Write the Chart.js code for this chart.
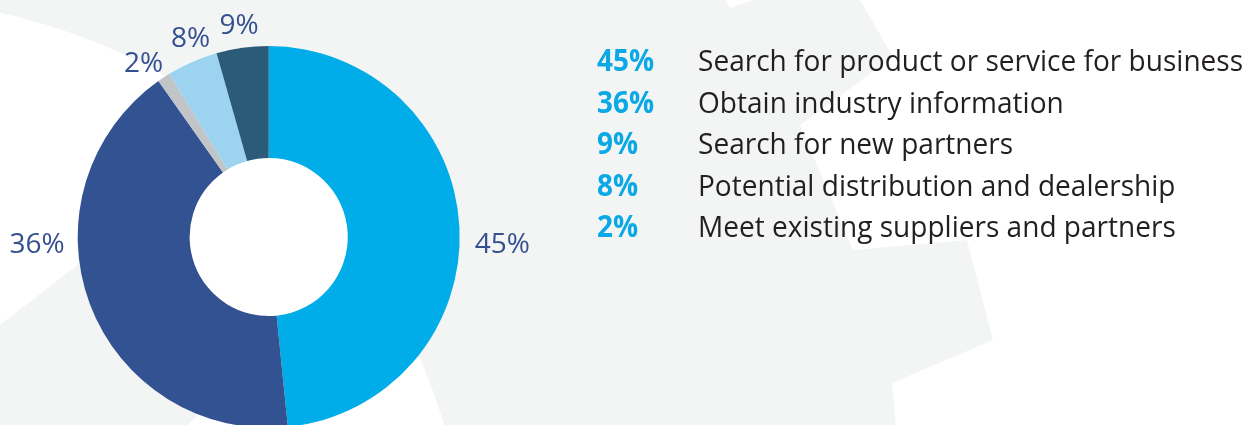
<!DOCTYPE html>
<html>
<head>
<meta charset="utf-8">
<script src="https://cdn.jsdelivr.net/npm/chart.js@4.4.1/dist/chart.umd.min.js"></script>
<style>
    html, body { margin: 0; padding: 0; background: #fff; overflow: hidden; }
    #wrap { position: relative; width: 1248px; height: 425px; overflow: hidden; }
    #pie { position: absolute; left: 0; top: 0; }
    .row { position: absolute; left: 0; width: 1248px; height: 30px; font-family: 'Open Sans', sans-serif; font-size: 30px; line-height: 30px; white-space: nowrap; }
    .pct { position: absolute; left: 597px; top: 0; font-weight: 700; color: #0aa8e4; transform: scaleX(0.93); transform-origin: left; }
    .txt { position: absolute; left: 698px; top: 0; color: #231f20; transform: scaleX(0.935); transform-origin: left; }
</style>
</head>
<body>
<div id="wrap">
    <canvas id="pie" width="1248" height="430" style="width:1248px;height:430px"></canvas>
    <div id="legend"></div>
</div>
<script>
// slices in drawing order, clockwise from 12 o'clock
const categories = [
    'Search for product or service for business',
    'Obtain industry information',
    'Meet existing suppliers and partners',
    'Potential distribution and dealership',
    'Search for new partners'
];
// printed percentages
const percents = [45, 36, 2, 8, 9];
// arc sizes as drawn in the picture
const shares = [48.4, 41.8, 1.1, 4.3, 4.4];

const sliceColors = ['#00ade8', '#335292', '#c2c5c7', '#9bd3f1', '#2c5b7a'];

// light gray cog shape behind the chart
const backdrop = {
    id: 'backdrop',
    beforeDraw(chart) {
        const ctx = chart.ctx;
        const poly = (pts) => {
            ctx.beginPath();
            ctx.moveTo(pts[0][0], pts[0][1]);
            pts.slice(1).forEach(p => ctx.lineTo(p[0], p[1]));
            ctx.closePath();
            ctx.fill();
        };
        ctx.save();
        ctx.fillStyle = '#f3f5f5';
        ctx.fillRect(0, 0, chart.width, chart.height);
        ctx.fillStyle = '#ffffff';
        ctx.beginPath();
        ctx.arc(-127, 595, 596, 0, Math.PI * 2);
        ctx.fill();
        ctx.fillStyle = '#f3f5f5';
        poly([[0, 325], [80, 263], [268, 300], [200, 413], [187, 425], [187, 440], [0, 440]]);
        ctx.fillStyle = '#ffffff';
        poly([[725, 0], [730, 8], [753, 0]]);
        poly([[860, 0], [893, 57], [800, 125], [853, 250], [967, 240], [993, 340], [892, 383], [897, 440], [1248, 440], [1248, 0]]);
        ctx.restore();
    },
    // white hole in the middle of the ring
    beforeDatasetsDraw(chart) {
        const arc = chart.getDatasetMeta(0).data[0];
        if (!arc) return;
        const { x, y, innerRadius } = arc.getProps(['x', 'y', 'innerRadius'], true);
        const ctx = chart.ctx;
        ctx.save();
        ctx.fillStyle = '#ffffff';
        ctx.beginPath();
        ctx.arc(x, y, innerRadius + 1, 0, Math.PI * 2);
        ctx.fill();
        ctx.restore();
    }
};

// percentage labels around the ring
const ringLabels = {
    id: 'ringLabels',
    afterDatasetsDraw(chart) {
        const ctx = chart.ctx;
        const TAU = Math.PI * 2;
        const minGap = 14.3 * Math.PI / 180;
        ctx.save();
        ctx.font = '28px "Open Sans", sans-serif';
        ctx.fillStyle = '#34508f';
        ctx.textBaseline = 'alphabetic';
        const lift = 10;
        const small = [];
        chart.getDatasetMeta(0).data.forEach((arc, i) => {
            const { x, y, startAngle, endAngle, outerRadius } =
                arc.getProps(['x', 'y', 'startAngle', 'endAngle', 'outerRadius'], true);
            const has = a => { while (a < startAngle) a += TAU; return a <= endAngle; };
            const text = percents[i] + '%';
            if (has(0)) {
                ctx.textAlign = 'left';
                ctx.fillText(text, x + outerRadius + 15, y + 6 + lift);
            } else if (has(Math.PI)) {
                ctx.textAlign = 'right';
                ctx.fillText(text, x - outerRadius - 13, y + 6 + lift);
            } else {
                small.push({ text, x, y, r: outerRadius + 24, a: (startAngle + endAngle) / 2 });
            }
        });
        // spread crowded labels apart around their common middle
        small.sort((p, q) => p.a - q.a);
        const clusters = [];
        small.forEach(l => {
            const last = clusters[clusters.length - 1];
            if (last && l.a - last[last.length - 1].a < minGap) last.push(l);
            else clusters.push([l]);
        });
        ctx.textAlign = 'center';
        clusters.forEach(c => {
            const mean = c.reduce((s, l) => s + l.a, 0) / c.length;
            c.forEach((l, k) => {
                const a = c.length > 1 ? mean + (k - (c.length - 1) / 2) * minGap : l.a;
                ctx.fillText(l.text, l.x + Math.cos(a) * l.r, l.y + Math.sin(a) * l.r + lift);
            });
        });
        ctx.restore();
    }
};

new Chart(document.getElementById('pie'), {
    type: 'doughnut',
    data: {
        labels: categories,
        datasets: [{
            data: shares,
            backgroundColor: sliceColors,
            borderWidth: 0,
            hoverBorderWidth: 0,
            hoverOffset: 0,
            offset: 0
        }]
    },
    options: {
        responsive: false,
        animation: false,
        cutout: '41.4%',
        layout: { padding: { left: 77.7, top: 46, right: 788.3, bottom: 2 } },
        plugins: { legend: { display: false }, tooltip: { enabled: false } }
    },
    plugins: [backdrop, ringLabels]
});

// legend, largest share first
const legend = document.getElementById('legend');
const order = percents.map((p, i) => i).sort((a, b) => percents[b] - percents[a]);
legend.innerHTML = order.map((idx, row) => `
    <div class="row" style="top:${45.4 + row * 41.5}px">
        <span class="pct">${percents[idx]}%</span>
        <span class="txt">${categories[idx]}</span>
    </div>
`).join('');
</script>
</body>
</html>
